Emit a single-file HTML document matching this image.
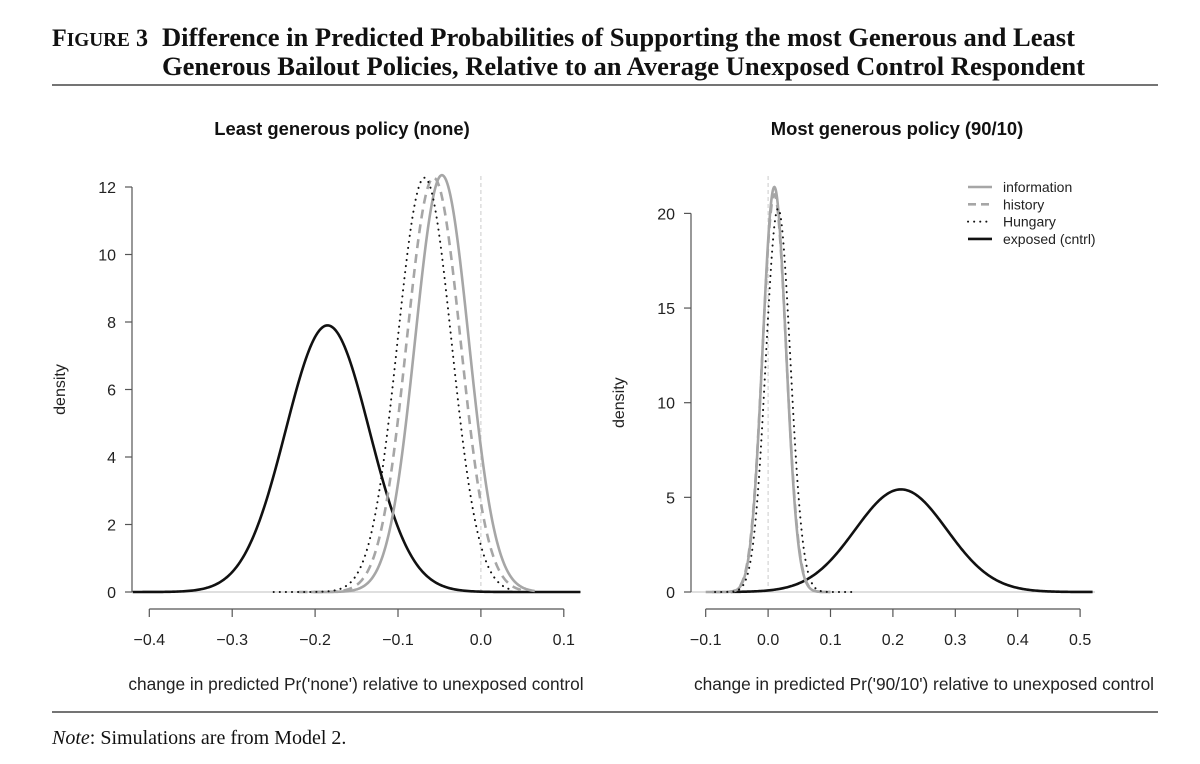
<!DOCTYPE html>
<html><head><meta charset="utf-8"><style>
body{margin:0;background:#fff;width:1200px;height:764px;overflow:hidden;font-family:"Liberation Sans",sans-serif}
svg{position:absolute;left:0;top:0}
</style></head><body>
<svg id="fig" width="1200" height="764">
<g font-family="Liberation Serif,serif" font-weight="bold" fill="#111">
<text x="52" y="46" font-size="25" textLength="96" lengthAdjust="spacingAndGlyphs">F<tspan font-size="20">IGURE</tspan> 3</text>
<text x="162" y="46" font-size="26" textLength="913" lengthAdjust="spacingAndGlyphs">Difference in Predicted Probabilities of Supporting the most Generous and Least</text>
<text x="162" y="75" font-size="26" textLength="923" lengthAdjust="spacingAndGlyphs">Generous Bailout Policies, Relative to an Average Unexposed Control Respondent</text>
</g>
<line x1="52" y1="85" x2="1158" y2="85" stroke="#222" stroke-width="1.3"/>
<line x1="52" y1="712" x2="1158" y2="712" stroke="#222" stroke-width="1.3"/>
<text x="52" y="744" font-family="Liberation Serif,serif" font-size="20" fill="#111"><tspan font-style="italic">Note</tspan>: Simulations are from Model 2.</text>
<g id="left"></g>
<g id="right"></g>
</svg>
<script>
// Series: information, history, Hungary, exposed (cntrl)
const seriesNames = ["information","history","Hungary","exposed (cntrl)"];
// Left panel (least generous, 'none'): normal-density means, sds, drawn ranges
const leftMeans = [-0.047,-0.057,-0.068,-0.185];
const leftSds = [0.0323,0.0325,0.0325,0.0505];
const leftFrom = [-0.205,-0.22,-0.25,-0.42];
const leftTo = [0.065,0.05,0.035,0.12];
const leftXTicks = [-0.4,-0.3,-0.2,-0.1,0.0,0.1];
const leftYTicks = [0,2,4,6,8,10,12];
// Right panel (most generous, '90/10')
const rightMeans = [0.010,0.010,0.016,0.213];
const rightSds = [0.01865,0.019,0.0197,0.0736];
const rightFrom = [-0.1,-0.09,-0.085,-0.06];
const rightTo = [0.1,0.1,0.135,0.52];
const rightXTicks = [-0.1,0.0,0.1,0.2,0.3,0.4,0.5];
const rightYTicks = [0,5,10,15,20];

const NS="http://www.w3.org/2000/svg";
const styles=[
 {stroke:"#a6a6a6",w:2.6,dash:null},
 {stroke:"#a6a6a6",w:2.6,dash:"9 6"},
 {stroke:"#111",w:2,dash:"0.1 6",cap:"round"},
 {stroke:"#111",w:2.6,dash:null}];
function el(t,a,p){const e=document.createElementNS(NS,t);for(const k in a)e.setAttribute(k,a[k]);p.appendChild(e);return e;}
function fmt(v,d){let s=v.toFixed(d);if(v<0)s="\u2212"+s.slice(1);return s;}

function panel(g,cfg){
 const X=v=>cfg.x0+(v-cfg.xv0)*cfg.xs, Y=v=>cfg.y0-v*cfg.ys;
 let e;
 e=el("text",{x:cfg.tx,y:135,"text-anchor":"middle","font-size":18.4,"font-weight":"bold",fill:"#111"},g);e.textContent=cfg.title;
 
 
 e=el("line",{x1:cfg.px0,x2:cfg.px1,y1:Y(0),y2:Y(0),stroke:"#ccc","stroke-width":1.2},g);
 
 
 e=el("line",{x1:X(0),x2:X(0),y1:cfg.py0,y2:Y(0),stroke:"#ccc","stroke-width":1,"stroke-dasharray":"4 3"},g);
 
 
 const yt=cfg.yTicks;
 e=el("line",{x1:cfg.ax,x2:cfg.ax,y1:Y(yt[0]),y2:Y(yt[yt.length-1]),stroke:"#555","stroke-width":1.2},g);
 
 
 yt.forEach(v=>{
  let t=el("line",{x1:cfg.ax-7,x2:cfg.ax,y1:Y(v),y2:Y(v),stroke:"#555","stroke-width":1.2},g);
  
  
  let l=el("text",{x:cfg.ax-16,y:Y(v)+6,"text-anchor":"end","font-size":16,fill:"#222"},g);l.textContent=v;
  
  
 });
 e=el("text",{transform:`translate(${cfg.ax-67},${(Y(yt[0])+Y(yt[yt.length-1]))/2}) rotate(-90)`,"text-anchor":"middle","font-size":16,fill:"#222"},g);e.textContent="density";
 
 
 const xt=cfg.xTicks, ay=609;
 e=el("line",{x1:X(xt[0]),x2:X(xt[xt.length-1]),y1:ay,y2:ay,stroke:"#555","stroke-width":1.2},g);
 
 
 xt.forEach(v=>{
  let t=el("line",{x1:X(v),x2:X(v),y1:ay,y2:ay+8,stroke:"#555","stroke-width":1.2},g);
  
  
  let l=el("text",{x:X(v),y:645,"text-anchor":"middle","font-size":16,fill:"#222"},g);l.textContent=fmt(v,1);
  
  
 });
 e=el("text",{x:cfg.cx,y:690,"text-anchor":"middle","font-size":17.3,fill:"#222"},g);e.textContent=cfg.xlabel;
 
 
 [3,0,1,2].forEach(i=>{
  const m=cfg.means[i],s=cfg.sds[i];let d="";
  const n=300;
  for(let k=0;k<=n;k++){const x=cfg.from[i]+(cfg.to[i]-cfg.from[i])*k/n;
   const y=Math.exp(-0.5*((x-m)/s)**2)/(s*Math.sqrt(2*Math.PI));
   d+=(k?"L":"M")+X(x).toFixed(2)+","+Y(y).toFixed(2);}
  const st=styles[i];
  const p=el("path",{d:d,fill:"none",stroke:st.stroke,"stroke-width":st.w,"stroke-linecap":st.cap||"butt"},g);
  if(st.dash)p.setAttribute("stroke-dasharray",st.dash);
  
  
 });
}
panel(document.getElementById("left"),{title:"Least generous policy (none)",xlabel:"change in predicted Pr('none') relative to unexposed control",
 cx:356,tx:342,x0:149.3,xv0:-0.4,xs:829,y0:592,ys:33.75,ax:132,px0:132,px1:581,py0:176,
 means:leftMeans,sds:leftSds,from:leftFrom,to:leftTo,xTicks:leftXTicks,yTicks:leftYTicks});
panel(document.getElementById("right"),{title:"Most generous policy (90/10)",xlabel:"change in predicted Pr('90/10') relative to unexposed control",
 cx:924,tx:897,x0:705.7,xv0:-0.1,xs:624,y0:592,ys:18.93,ax:691,px0:691,px1:1095,py0:176,
 means:rightMeans,sds:rightSds,from:rightFrom,to:rightTo,xTicks:rightXTicks,yTicks:rightYTicks});
const lg=document.getElementById("right");
const leg=document.createElementNS(NS,"g");lg.appendChild(leg);


seriesNames.forEach((nm,i)=>{
 const y=187+i*17.3, st=styles[i];
 const l=el("line",{x1:968,x2:992,y1:y,y2:y,stroke:st.stroke,"stroke-width":st.w,"stroke-linecap":st.cap||"butt"},leg);
 if(st.dash)l.setAttribute("stroke-dasharray",i==1?"8 5":st.dash);
 
 
 const t=el("text",{x:1003,y:y+5,"font-size":14,fill:"#222"},leg);t.textContent=nm;
 
 
});
</script>
</body></html>
